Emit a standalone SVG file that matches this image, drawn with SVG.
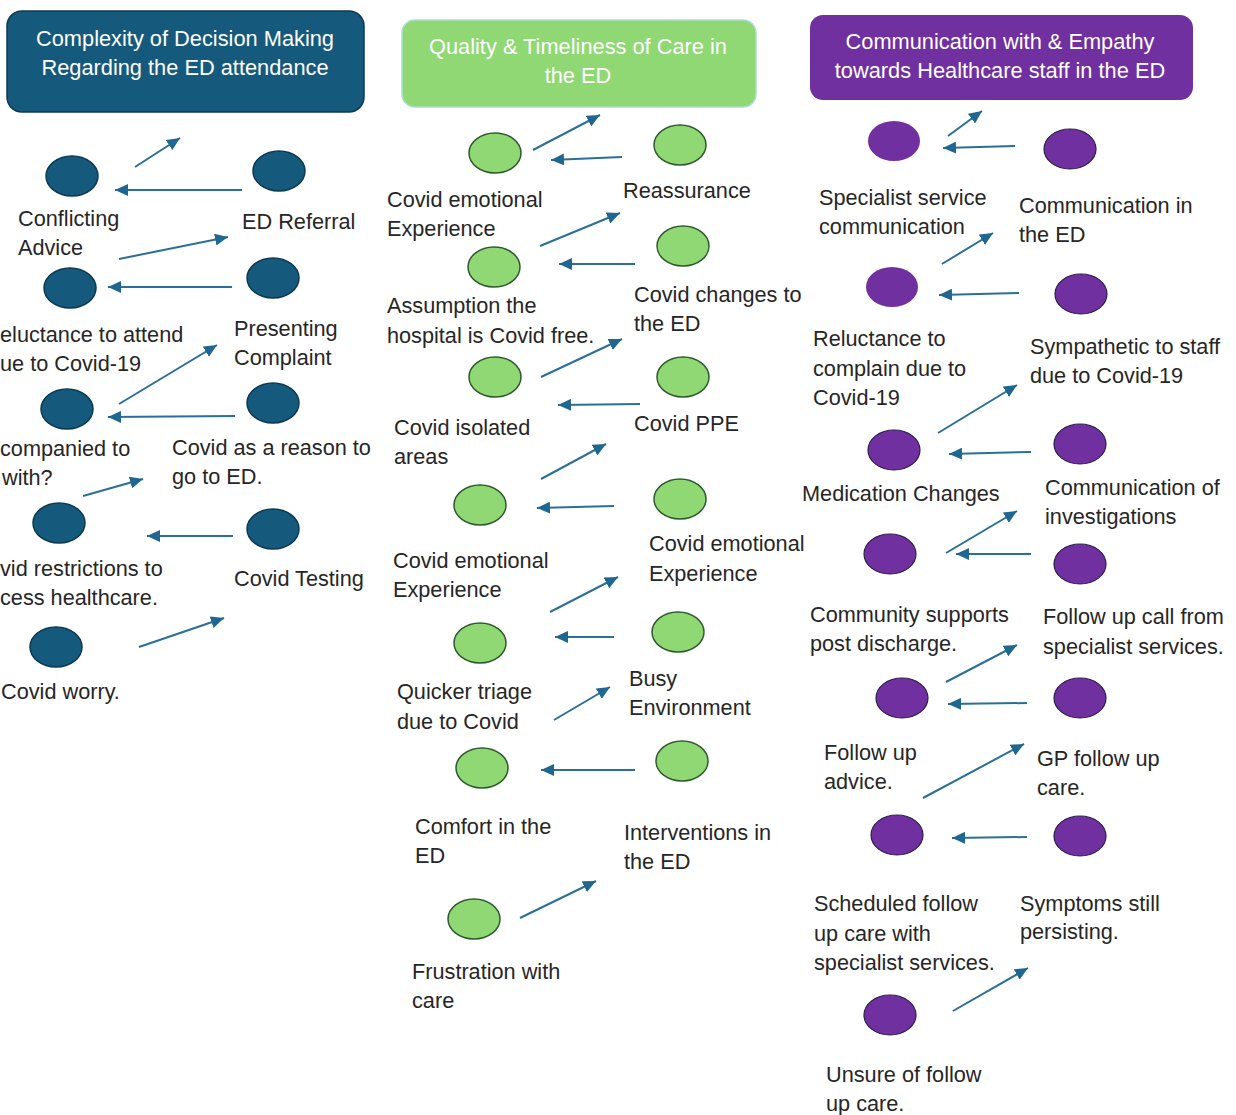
<svg xmlns="http://www.w3.org/2000/svg" width="1236" height="1115" viewBox="0 0 1236 1115">
<style>
.t{font-family:"Liberation Sans",Arial,sans-serif;font-size:21.7px;fill:#262626}
.h{font-family:"Liberation Sans",Arial,sans-serif;font-size:21.8px;fill:#ffffff;text-anchor:middle}
.b{fill:#155a7c;stroke:#0d3a52;stroke-width:1.5}
.g{fill:#8fd873;stroke:#2f5a30;stroke-width:1.5}
.p{fill:#7030a0;stroke:#2a1f4a;stroke-width:1.2}
.c line{stroke:#2a6f97;stroke-width:2;marker-end:url(#ah)}
</style>
<defs>
<marker id="ah" markerUnits="userSpaceOnUse" markerWidth="14" markerHeight="12" refX="13" refY="6" orient="auto">
<path d="M0,0 L13,6 L0,12 Z" fill="#1f6690"/>
</marker>
</defs>
<rect width="1236" height="1115" fill="#ffffff"/>

<g id="header-blue">
<rect x="7" y="11" width="357" height="101" rx="15" fill="#155a7c" stroke="#0d3a52" stroke-width="1.5"/>
<text class="h" x="185" y="46">Complexity of Decision Making</text>
<text class="h" x="185" y="75">Regarding the ED attendance</text>
</g>
<g id="header-green">
<rect x="402" y="20" width="354" height="87" rx="13" fill="#8fd873" stroke="#a8e0d0" stroke-width="1.5"/>
<text class="h" x="578" y="54">Quality &amp; Timeliness of Care in</text>
<text class="h" x="578" y="83">the ED</text>
</g>
<g id="header-purple">
<rect x="810" y="15" width="383" height="85" rx="13" fill="#7030a0"/>
<text class="h" x="1000" y="49">Communication with &amp; Empathy</text>
<text class="h" x="1000" y="78">towards Healthcare staff in the ED</text>
</g>

<g class="c" id="connectors">
<line x1="135" y1="167" x2="180" y2="138"/>
<line x1="242" y1="190" x2="115" y2="190"/>
<line x1="119" y1="259" x2="228" y2="237"/>
<line x1="232" y1="287" x2="108" y2="287"/>
<line x1="119" y1="404" x2="217" y2="345"/>
<line x1="235" y1="416" x2="108" y2="417"/>
<line x1="83" y1="496" x2="143" y2="479"/>
<line x1="233" y1="536" x2="147" y2="536"/>
<line x1="139" y1="647" x2="224" y2="618"/>

<line x1="533" y1="150" x2="600" y2="115"/>
<line x1="622" y1="157" x2="551" y2="160"/>
<line x1="540" y1="246" x2="620" y2="213"/>
<line x1="635" y1="264" x2="559" y2="264"/>
<line x1="541" y1="377" x2="622" y2="339"/>
<line x1="640" y1="404" x2="558" y2="405"/>
<line x1="541" y1="479" x2="606" y2="444"/>
<line x1="614" y1="506" x2="537" y2="508"/>
<line x1="550" y1="612" x2="618" y2="577"/>
<line x1="614" y1="637" x2="555" y2="637"/>
<line x1="554" y1="720" x2="610" y2="687"/>
<line x1="635" y1="770" x2="541" y2="770"/>
<line x1="520" y1="918" x2="596" y2="881"/>

<line x1="948" y1="136" x2="982" y2="111"/>
<line x1="1015" y1="146" x2="943" y2="148"/>
<line x1="942" y1="264" x2="993" y2="233"/>
<line x1="1019" y1="293" x2="939" y2="295"/>
<line x1="938" y1="433" x2="1017" y2="385"/>
<line x1="1031" y1="452" x2="949" y2="454"/>
<line x1="946" y1="553" x2="1017" y2="511"/>
<line x1="1031" y1="554" x2="956" y2="554"/>
<line x1="946" y1="682" x2="1017" y2="645"/>
<line x1="1027" y1="703" x2="948" y2="704"/>
<line x1="923" y1="798" x2="1024" y2="744"/>
<line x1="1027" y1="837" x2="952" y2="838"/>
<line x1="953" y1="1011" x2="1028" y2="968"/>
</g>

<!-- Blue column -->
<g id="n-conflicting-advice"><ellipse class="b" cx="72" cy="176" rx="26" ry="20"/><text class="t" x="18" y="226">Conflicting</text><text class="t" x="18" y="255">Advice</text></g>
<g id="n-ed-referral"><ellipse class="b" cx="279" cy="171" rx="26" ry="20"/><text class="t" x="242" y="229">ED Referral</text></g>
<g id="n-reluctance-attend"><ellipse class="b" cx="70" cy="288" rx="26" ry="20"/><text class="t" x="0" y="342">eluctance to attend</text><text class="t" x="0" y="371">ue to Covid-19</text></g>
<g id="n-presenting-complaint"><ellipse class="b" cx="273" cy="278" rx="26" ry="20"/><text class="t" x="234" y="336">Presenting</text><text class="t" x="234" y="365">Complaint</text></g>
<g id="n-accompanied"><ellipse class="b" cx="67" cy="409" rx="26" ry="20"/><text class="t" x="0" y="456">companied to</text><text class="t" x="2" y="485">with?</text></g>
<g id="n-covid-reason"><ellipse class="b" cx="273" cy="403" rx="26" ry="20"/><text class="t" x="172" y="455">Covid as a reason to</text><text class="t" x="172" y="484">go to ED.</text></g>
<g id="n-covid-restrictions"><ellipse class="b" cx="59" cy="523" rx="26" ry="20"/><text class="t" x="0" y="576">vid restrictions to</text><text class="t" x="0" y="605">cess healthcare.</text></g>
<g id="n-covid-testing"><ellipse class="b" cx="273" cy="529" rx="26" ry="20"/><text class="t" x="234" y="586">Covid Testing</text></g>
<g id="n-covid-worry"><ellipse class="b" cx="56" cy="647" rx="26" ry="20"/><text class="t" x="1" y="699">Covid worry.</text></g>

<!-- Green column -->
<g id="n-covid-emotional-1"><ellipse class="g" cx="495" cy="153" rx="26" ry="20"/><text class="t" x="387" y="207">Covid emotional</text><text class="t" x="387" y="236">Experience</text></g>
<g id="n-reassurance"><ellipse class="g" cx="680" cy="145" rx="26" ry="20"/><text class="t" x="623" y="198">Reassurance</text></g>
<g id="n-assumption"><ellipse class="g" cx="494" cy="267" rx="26" ry="20"/><text class="t" x="387" y="313">Assumption the</text><text class="t" x="387" y="343">hospital is Covid free.</text></g>
<g id="n-covid-changes"><ellipse class="g" cx="683" cy="246" rx="26" ry="20"/><text class="t" x="634" y="302">Covid changes to</text><text class="t" x="634" y="331">the ED</text></g>
<g id="n-covid-isolated"><ellipse class="g" cx="495" cy="377" rx="26" ry="20"/><text class="t" x="394" y="435">Covid isolated</text><text class="t" x="394" y="464">areas</text></g>
<g id="n-covid-ppe"><ellipse class="g" cx="683" cy="377" rx="26" ry="20"/><text class="t" x="634" y="431">Covid PPE</text></g>
<g id="n-covid-emotional-2"><ellipse class="g" cx="480" cy="505" rx="26" ry="20"/><text class="t" x="393" y="568">Covid emotional</text><text class="t" x="393" y="597">Experience</text></g>
<g id="n-covid-emotional-3"><ellipse class="g" cx="680" cy="499" rx="26" ry="20"/><text class="t" x="649" y="551">Covid emotional</text><text class="t" x="649" y="581">Experience</text></g>
<g id="n-quicker-triage"><ellipse class="g" cx="480" cy="643" rx="26" ry="20"/><text class="t" x="397" y="699">Quicker triage</text><text class="t" x="397" y="729">due to Covid</text></g>
<g id="n-busy"><ellipse class="g" cx="678" cy="632" rx="26" ry="20"/><text class="t" x="629" y="686">Busy</text><text class="t" x="629" y="715">Environment</text></g>
<g id="n-comfort"><ellipse class="g" cx="482" cy="768" rx="26" ry="20"/><text class="t" x="415" y="834">Comfort in the</text><text class="t" x="415" y="863">ED</text></g>
<g id="n-interventions"><ellipse class="g" cx="682" cy="761" rx="26" ry="20"/><text class="t" x="624" y="840">Interventions in</text><text class="t" x="624" y="869">the ED</text></g>
<g id="n-frustration"><ellipse class="g" cx="474" cy="919" rx="26" ry="20"/><text class="t" x="412" y="979">Frustration with</text><text class="t" x="412" y="1008">care</text></g>

<!-- Purple column -->
<g id="n-specialist-comm"><ellipse cx="894" cy="141" rx="26" ry="20" fill="#7030a0"/><text class="t" x="819" y="205">Specialist service</text><text class="t" x="819" y="234">communication</text></g>
<g id="n-comm-ed"><ellipse class="p" cx="1070" cy="149" rx="26" ry="20"/><text class="t" x="1019" y="213">Communication in</text><text class="t" x="1019" y="242">the ED</text></g>
<g id="n-reluctance-complain"><ellipse cx="892" cy="287" rx="26" ry="20" fill="#7030a0"/><text class="t" x="813" y="346">Reluctance to</text><text class="t" x="813" y="376">complain due to</text><text class="t" x="813" y="405">Covid-19</text></g>
<g id="n-sympathetic"><ellipse class="p" cx="1081" cy="294" rx="26" ry="20"/><text class="t" x="1030" y="354">Sympathetic to staff</text><text class="t" x="1030" y="383">due to Covid-19</text></g>
<g id="n-medication"><ellipse class="p" cx="894" cy="450" rx="26" ry="20"/><text class="t" x="802" y="501">Medication Changes</text></g>
<g id="n-comm-investigations"><ellipse class="p" cx="1080" cy="444" rx="26" ry="20"/><text class="t" x="1045" y="495">Communication of</text><text class="t" x="1045" y="524">investigations</text></g>
<g id="n-community"><ellipse class="p" cx="890" cy="554" rx="26" ry="20"/><text class="t" x="810" y="622">Community supports</text><text class="t" x="810" y="651">post discharge.</text></g>
<g id="n-follow-call"><ellipse class="p" cx="1080" cy="564" rx="26" ry="20"/><text class="t" x="1043" y="624">Follow up call from</text><text class="t" x="1043" y="654">specialist services.</text></g>
<g id="n-follow-advice"><ellipse class="p" cx="902" cy="698" rx="26" ry="20"/><text class="t" x="824" y="760">Follow up</text><text class="t" x="824" y="789">advice.</text></g>
<g id="n-gp-follow"><ellipse class="p" cx="1080" cy="698" rx="26" ry="20"/><text class="t" x="1037" y="766">GP follow up</text><text class="t" x="1037" y="795">care.</text></g>
<g id="n-scheduled"><ellipse class="p" cx="897" cy="835" rx="26" ry="20"/><text class="t" x="814" y="911">Scheduled follow</text><text class="t" x="814" y="941">up care with</text><text class="t" x="814" y="970">specialist services.</text></g>
<g id="n-symptoms"><ellipse class="p" cx="1080" cy="836" rx="26" ry="20"/><text class="t" x="1020" y="911">Symptoms still</text><text class="t" x="1020" y="939">persisting.</text></g>
<g id="n-unsure"><ellipse class="p" cx="890" cy="1015" rx="26" ry="20"/><text class="t" x="826" y="1082">Unsure of follow</text><text class="t" x="826" y="1111">up care.</text></g>
</svg>
